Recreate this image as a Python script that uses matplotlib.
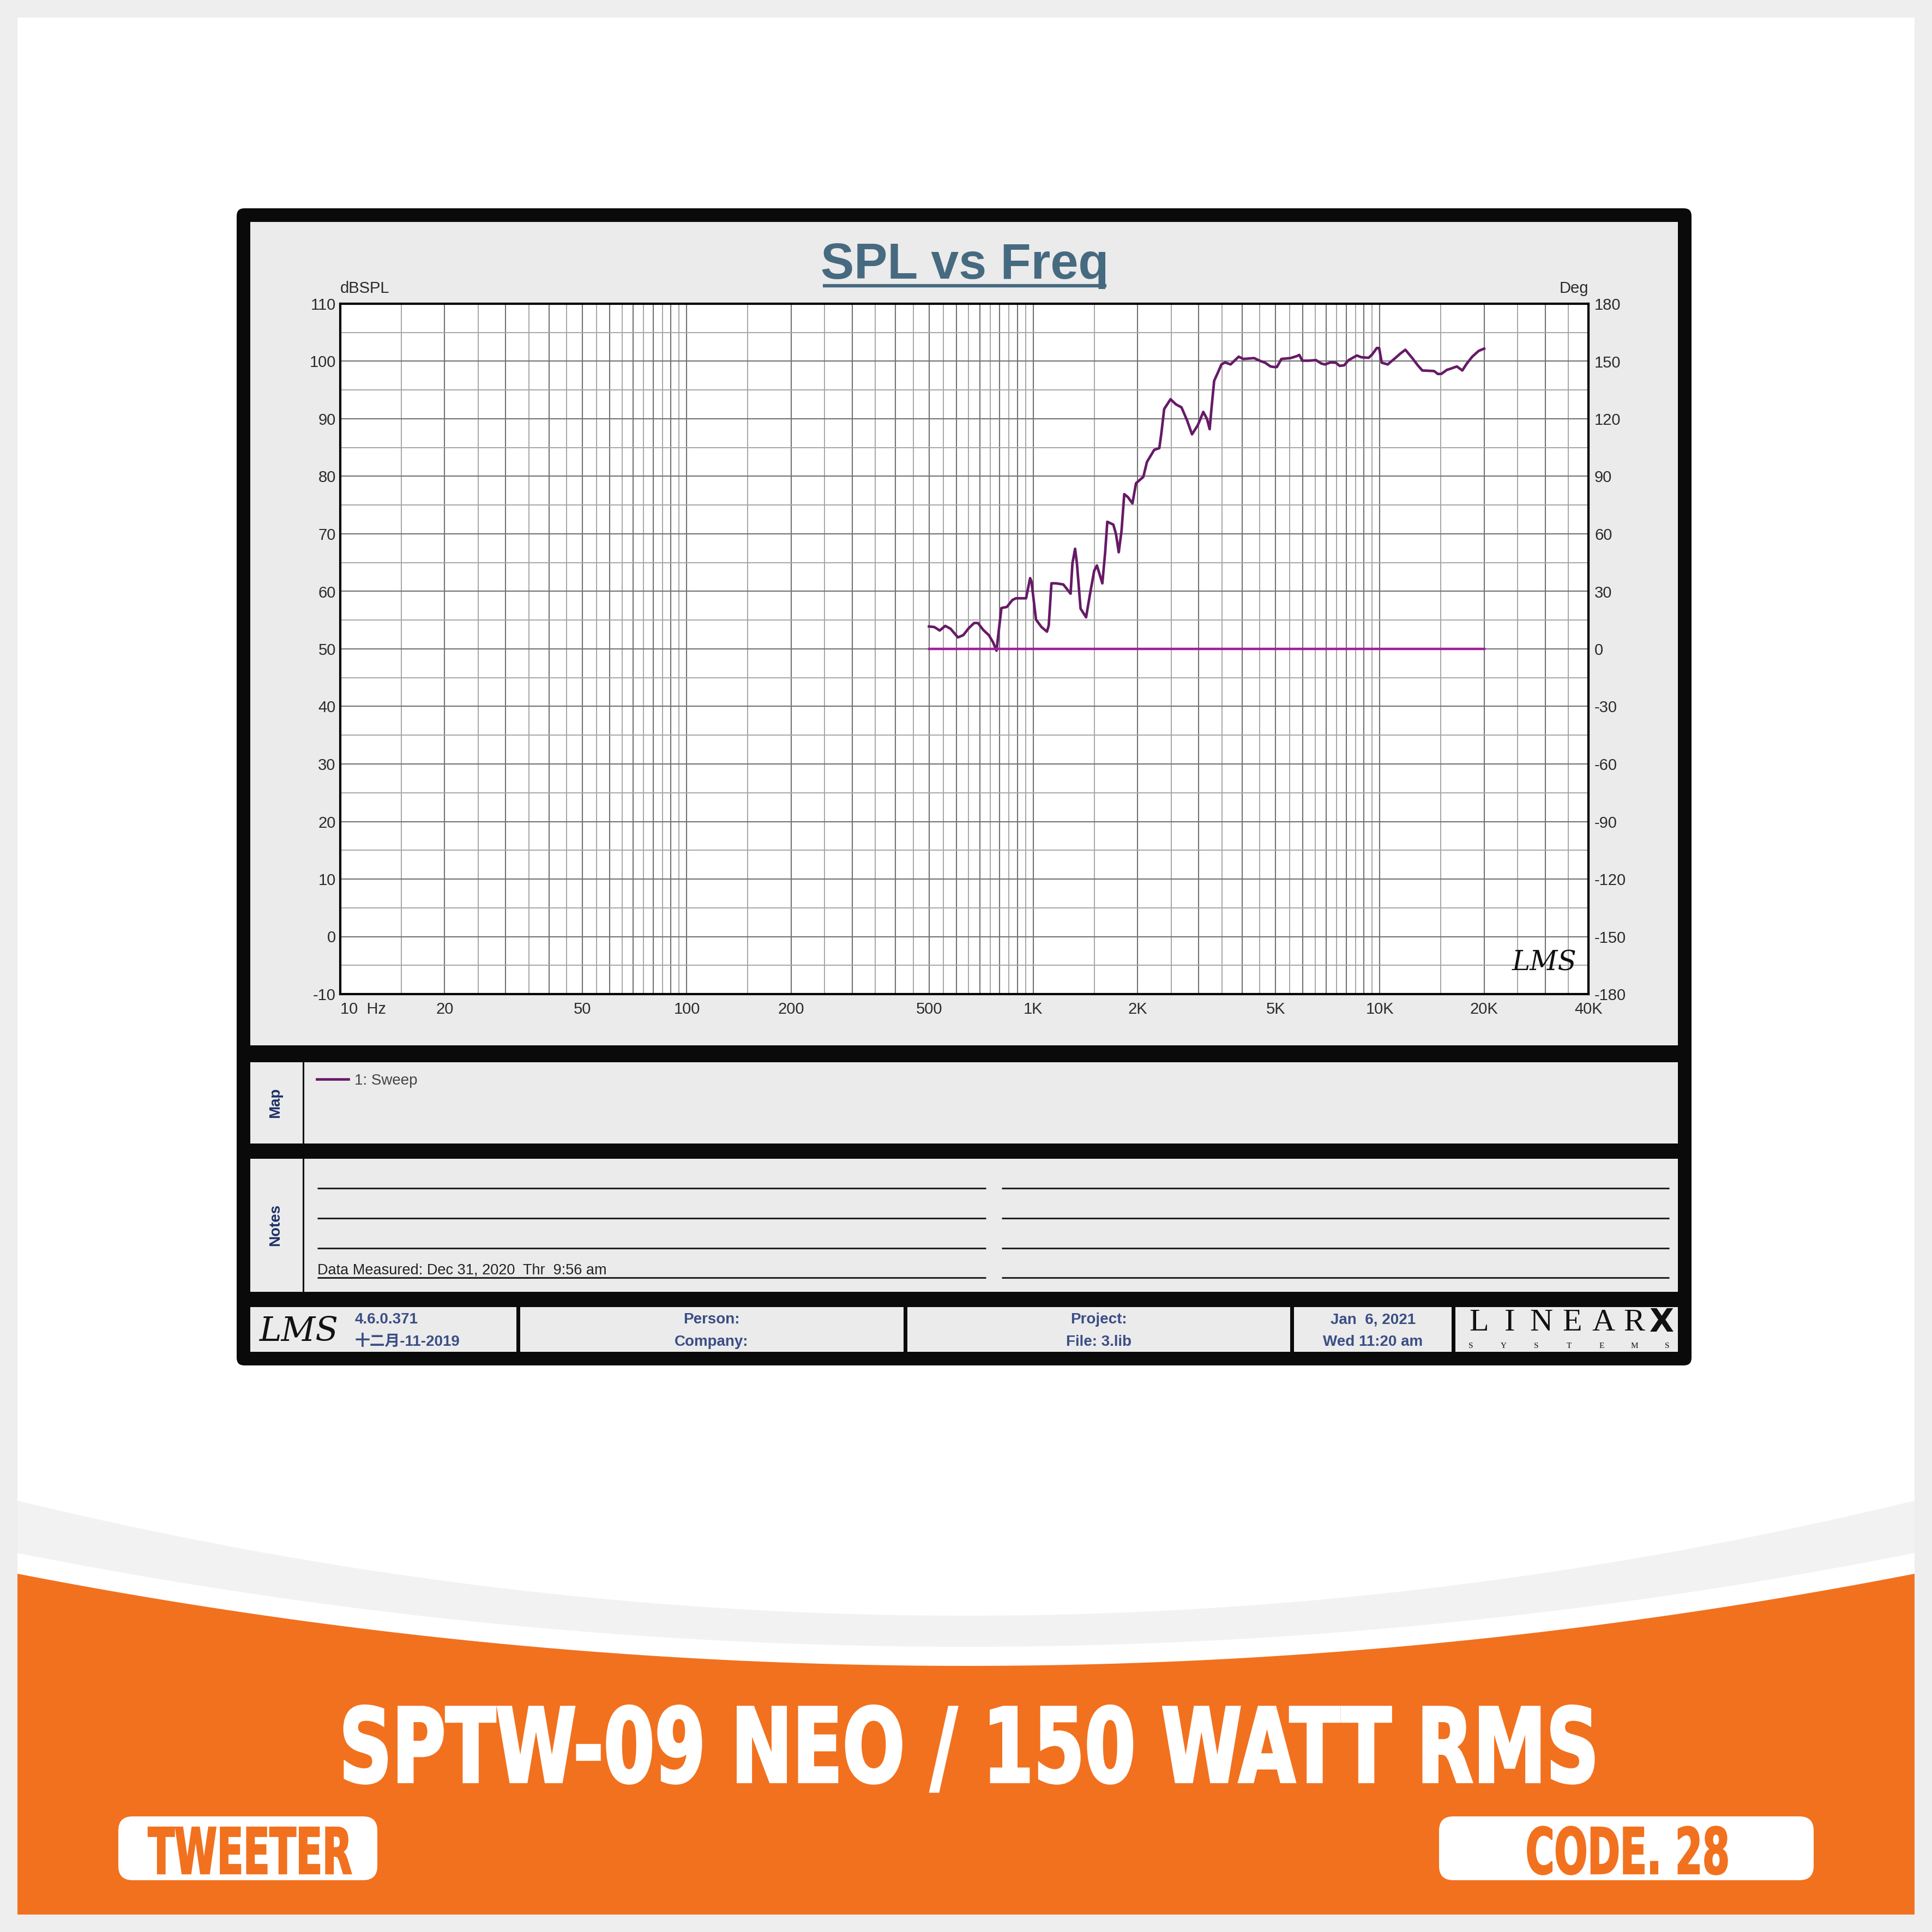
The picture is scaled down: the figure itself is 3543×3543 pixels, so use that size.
import numpy as np
import matplotlib
matplotlib.use('Agg')
import matplotlib.pyplot as plt
from matplotlib.patches import Rectangle, FancyBboxPatch, Polygon
from matplotlib.patheffects import AbstractPathEffect
from matplotlib.transforms import Affine2D

plt.rcParams['axes.unicode_minus'] = False
plt.rcParams['font.family'] = ['Liberation Sans', 'Noto Sans CJK SC', 'DejaVu Sans']

# SPL sweep (Hz, dBSPL)
spl_freq_hz = [500, 518, 537, 557, 577, 606, 628, 651, 675, 692, 717, 744, 766, 783, 795,
               809, 839, 870, 891, 953, 979, 988, 1018, 1056, 1095, 1108, 1128, 1163, 1221,
               1281, 1297, 1320, 1336, 1369, 1420, 1460, 1499, 1526, 1582, 1612, 1635, 1702,
               1733, 1764, 1797, 1830, 1874, 1932, 1979, 2077, 2128, 2233, 2310, 2343, 2386,
               2489, 2581, 2676, 2775, 2871, 2984, 3094, 3170, 3228, 3266, 3326, 3407, 3491,
               3577, 3709, 3915, 4035, 4338, 4498, 4665, 4836, 4955, 5046, 5200, 5523, 5764,
               5856, 5976, 6233, 6542, 6783, 6949, 7205, 7470, 7654, 7889, 8128, 8585, 8843,
               9284, 9507, 9802, 9955, 10127, 10539, 11001, 11469, 11849, 12406, 12866, 13260,
               14344, 14695, 15045, 15612, 15993, 16684, 17298, 17824, 18480, 19283, 20000]
spl_db = [53.9, 53.8, 53.2, 54.0, 53.5, 52.0, 52.4, 53.6, 54.5, 54.5, 53.3, 52.4, 51.1, 49.7, 53.2,
          57.1, 57.3, 58.5, 58.8, 58.8, 62.3, 61.7, 55.1, 53.8, 53.0, 54.1, 61.4, 61.4, 61.2,
          59.6, 64.9, 67.4, 64.9, 57.0, 55.5, 59.8, 63.6, 64.5, 61.4, 66.8, 72.1, 71.6,
          69.9, 66.8, 70.5, 76.9, 76.4, 75.3, 78.8, 79.9, 82.5, 84.6, 84.9, 87.6, 91.7,
          93.4, 92.5, 92.0, 89.8, 87.3, 88.9, 91.2, 90.0, 88.2, 91.7, 96.6, 98.0, 99.45,
          99.8, 99.45, 100.8, 100.4, 100.55, 100.1, 99.75, 99.1, 99.0, 99.0, 100.4, 100.55, 100.9,
          101.1, 100.1, 100.1, 100.2, 99.6, 99.45, 99.8, 99.75, 99.2, 99.3, 100.2, 101.0, 100.7,
          100.6, 101.2, 102.3, 102.3, 99.75, 99.45, 100.4, 101.35, 102.0, 100.55, 99.3, 98.4,
          98.3, 97.8, 97.8, 98.5, 98.7, 99.1, 98.4, 99.6, 100.8, 101.8, 102.2]

# phase trace (Deg, right axis)
phase_freq_hz = [500, 20000]
phase_deg = [0, 0]

x_label_map = {10: '10  Hz', 20: '20', 50: '50', 100: '100', 200: '200', 500: '500',
               1000: '1K', 2000: '2K', 5000: '5K', 10000: '10K', 20000: '20K', 40000: '40K'}
spl_ticks = list(range(-10, 111, 10))
deg_ticks = list(range(-180, 181, 30))

# LMS grid: every 1x and 0.5x of each decade
grid_major = [m * d for d in (10, 100, 1000, 10000) for m in range(1, 10) if m * d <= 40000]
grid_half = [(m + 0.5) * d for d in (10, 100, 1000, 10000) for m in range(1, 10) if (m + 0.5) * d < 40000]

W = 3543
ORANGE = '#f1711f'
PANEL = '#ebebeb'
NAVY = '#1d3166'
FOOT = '#3a4e85'
TXT = '#2b2b2b'
TITLE = '#466a80'
SPL_C = '#661a66'
PH_C = '#a0209a'


class Squeeze(AbstractPathEffect):
    """narrow the glyphs horizontally around the text centre and thicken them a bit"""

    def __init__(self, sx, stroke=0.0):
        super().__init__()
        self.sx = sx
        self.stroke = stroke

    def draw_path(self, renderer, gc, tpath, affine, rgbFace=None):
        ext = tpath.get_extents()
        cx = (ext.x0 + ext.x1) / 2
        sq = Affine2D().translate(-cx, 0).scale(self.sx, 1).translate(cx, 0)
        gc0 = renderer.new_gc()
        gc0.copy_properties(gc)
        if self.stroke and rgbFace is not None:
            gc0.set_linewidth(self.stroke)
            gc0.set_foreground(rgbFace)
            gc0.set_joinstyle('miter')
        renderer.draw_path(gc0, tpath, sq + affine, rgbFace)
        gc0.restore()


fig = plt.figure(figsize=(W / 100, W / 100), dpi=100)
fig.patch.set_facecolor('#eeeeee')
bg = fig.add_axes([0, 0, 1, 1])
bg.set_xlim(0, W)
bg.set_ylim(W, 0)
bg.axis('off')


def box(x0, y0, x1, y1, color, z=1):
    bg.add_patch(Rectangle((x0, y0), x1 - x0, y1 - y0, facecolor=color, edgecolor='none', zorder=z))


# page
box(32, 32, 3511, 3511, 'white', 0)

# banner arcs
xs = np.linspace(32, 3511, 300)
t = (xs - 1771.5) / 1739.5
for y_edge, y_mid, col in [(2752, 2963, '#f2f2f2'), (2848, 3020, 'white'), (2886, 3055, ORANGE)]:
    ys = y_edge + (y_mid - y_edge) * (1 - t ** 2)
    pts = np.column_stack([np.r_[xs, 3511, 32], np.r_[ys, 3511, 3511]])
    bg.add_patch(Polygon(pts, closed=True, facecolor=col, edgecolor='none', zorder=1))

banner_texts = []
banner_texts.append((bg.text(1777, 3268, 'SPTW-09 NEO / 150 WATT RMS', ha='center', va='baseline',
                             color='white', fontsize=136, weight='bold', family=['DejaVu Sans'],
                             zorder=3), 2310, 3.0))
for x0, x1, cx, label in [(217, 692, 459, 'TWEETER'), (2639, 3326, 2985, 'CODE. 28')]:
    bg.add_patch(FancyBboxPatch((x0, 3331), x1 - x0, 117, boxstyle='round,pad=0,rounding_size=26',
                                facecolor='white', edgecolor='none', zorder=3))
    banner_texts.append((bg.text(cx, 3436, label, ha='center', va='baseline', color=ORANGE,
                                 fontsize=84, weight='bold', family=['DejaVu Sans'], zorder=4),
                         374, 1.8))
renderer = fig.canvas.get_renderer()
for txt, target_w, stroke in banner_texts:
    w = txt.get_window_extent(renderer).width
    txt.set_path_effects([Squeeze(target_w / w, stroke)])

# black frame and panels
bg.add_patch(FancyBboxPatch((434, 382), 2668, 2122, boxstyle='round,pad=0,rounding_size=14',
                            facecolor='#0a0a0a', edgecolor='none', zorder=1))
box(459, 407, 3077, 1917, PANEL, 2)
box(459, 1948, 3077, 2097, PANEL, 2)
box(459, 2125, 3077, 2369, PANEL, 2)
bg.plot([556, 556], [1948, 2097], color='#111111', lw=2.2, zorder=3)
bg.plot([556, 556], [2125, 2369], color='#111111', lw=2.2, zorder=3)
bg.text(505, 2022, 'Map', rotation=90, ha='center', va='center', fontsize=20, weight='bold', color=NAVY, zorder=3)
bg.text(505, 2246, 'Notes', rotation=90, ha='center', va='center', fontsize=20, weight='bold', color=NAVY, zorder=3)

for y in (2179, 2234, 2289, 2343):
    bg.plot([582, 1808], [y, y], color='#222222', lw=2.2, zorder=3, solid_capstyle='butt')
    bg.plot([1837, 3061], [y, y], color='#222222', lw=2.2, zorder=3, solid_capstyle='butt')
bg.text(582, 2336, 'Data Measured: Dec 31, 2020  Thr  9:56 am', ha='left', va='baseline',
        fontsize=19.5, color='#222222', zorder=3)

# footer cells
for x0, x1 in [(459, 947), (954, 1657), (1664, 2366), (2373, 2662), (2669, 3077)]:
    box(x0, 2397, x1, 2479, PANEL, 2)
bg.text(548, 2442, 'LMS', ha='center', va='center', fontsize=44, style='italic',
        family=['DejaVu Serif'], color='#111111', zorder=3)
bg.text(651, 2420, '4.6.0.371', ha='left', va='center', fontsize=20, weight='bold', color=FOOT, zorder=3)
bg.text(651, 2461, '十二月-11-2019', ha='left', va='center', fontsize=20, weight='bold', color=FOOT, zorder=3)
for cx, top, bottom in [(1305, 'Person:', 'Company:'), (2015, 'Project:', 'File: 3.lib'),
                        (2518, 'Jan  6, 2021', 'Wed 11:20 am')]:
    bg.text(cx, 2420, top, ha='center', va='center', fontsize=20, weight='bold', color=FOOT, zorder=3)
    bg.text(cx, 2461, bottom, ha='center', va='center', fontsize=20, weight='bold', color=FOOT, zorder=3)
for i, ch in enumerate('LINEAR'):
    bg.text(2712 + i * 57, 2426, ch, ha='center', va='center', fontsize=42,
            family=['Liberation Serif'], color='#111111', zorder=3)
bg.text(3047, 2426, 'X', ha='center', va='center', fontsize=42, weight='bold',
        family=['DejaVu Sans'], color='#111111', zorder=3)
for i, ch in enumerate('SYSTEMS'):
    bg.text(2697 + i * 60, 2468, ch, ha='center', va='center', fontsize=11,
            family=['Liberation Serif'], color='#111111', zorder=3)

# title
bg.text(1769, 511, 'SPL vs Freq', ha='center', va='baseline', fontsize=66, weight='bold', color=TITLE, zorder=3)
bg.plot([1509, 2029], [524, 524], color=TITLE, lw=4.5, solid_capstyle='butt', zorder=3)
bg.text(624, 529, 'dBSPL', ha='left', va='center', fontsize=21, color=TXT, zorder=3)
bg.text(2913, 529, 'Deg', ha='right', va='center', fontsize=21, color=TXT, zorder=3)

# plot area
ax = fig.add_axes([624 / W, 1 - 1823 / W, (2913 - 624) / W, (1823 - 557) / W])
ax.set_facecolor('white')
ax.set_xscale('log')
ax.set_xlim(10, 40000)
ax.set_ylim(-10, 110)
ax.set_xticks(grid_major, labels=[x_label_map.get(int(v), '') for v in grid_major])
ax.get_xticklabels()[0].set_horizontalalignment('left')
ax.set_xticks(grid_half, minor=True)
ax.set_yticks(spl_ticks)
ax.set_yticks(list(range(-5, 110, 10)), minor=True)
ax.xaxis.set_minor_formatter(plt.NullFormatter())
ax.yaxis.set_minor_formatter(plt.NullFormatter())
ax.grid(True, which='major', color='#727272', lw=1.5)
ax.grid(True, which='minor', color='#a6a6a6', lw=1.4)
ax.set_axisbelow(True)
ax.tick_params(which='both', length=0)
ax.tick_params(axis='x', labelsize=21, labelcolor=TXT, pad=10)
ax.tick_params(axis='y', labelsize=21, labelcolor=TXT, pad=6)
for s in ax.spines.values():
    s.set_linewidth(3)
    s.set_color('black')

line, = ax.plot(spl_freq_hz, spl_db, color=SPL_C, lw=3.4, zorder=4)

ax2 = ax.twinx()
ax2.set_ylim(-180, 180)
ax2.set_yticks(deg_ticks)
ax2.tick_params(length=0, labelsize=21, labelcolor=TXT, pad=8)
for s in ax2.spines.values():
    s.set_visible(False)
ax2.plot(phase_freq_hz, phase_deg, color=PH_C, lw=3.2, zorder=3)

ax.text(0.9646, 0.045, 'LMS', transform=ax.transAxes, ha='center', va='center', fontsize=36,
        style='italic', family=['DejaVu Serif'], color='#111111')

ax.legend([line], ['1: Sweep'], loc='center left', bbox_to_anchor=(581 / W, 1 - 1982 / W),
          bbox_transform=fig.transFigure, frameon=False, fontsize=20, handlelength=2.1,
          handletextpad=0.4, borderpad=0, borderaxespad=0, labelcolor='#444444')

fig.savefig('out.png', dpi=100, facecolor=fig.get_facecolor())
